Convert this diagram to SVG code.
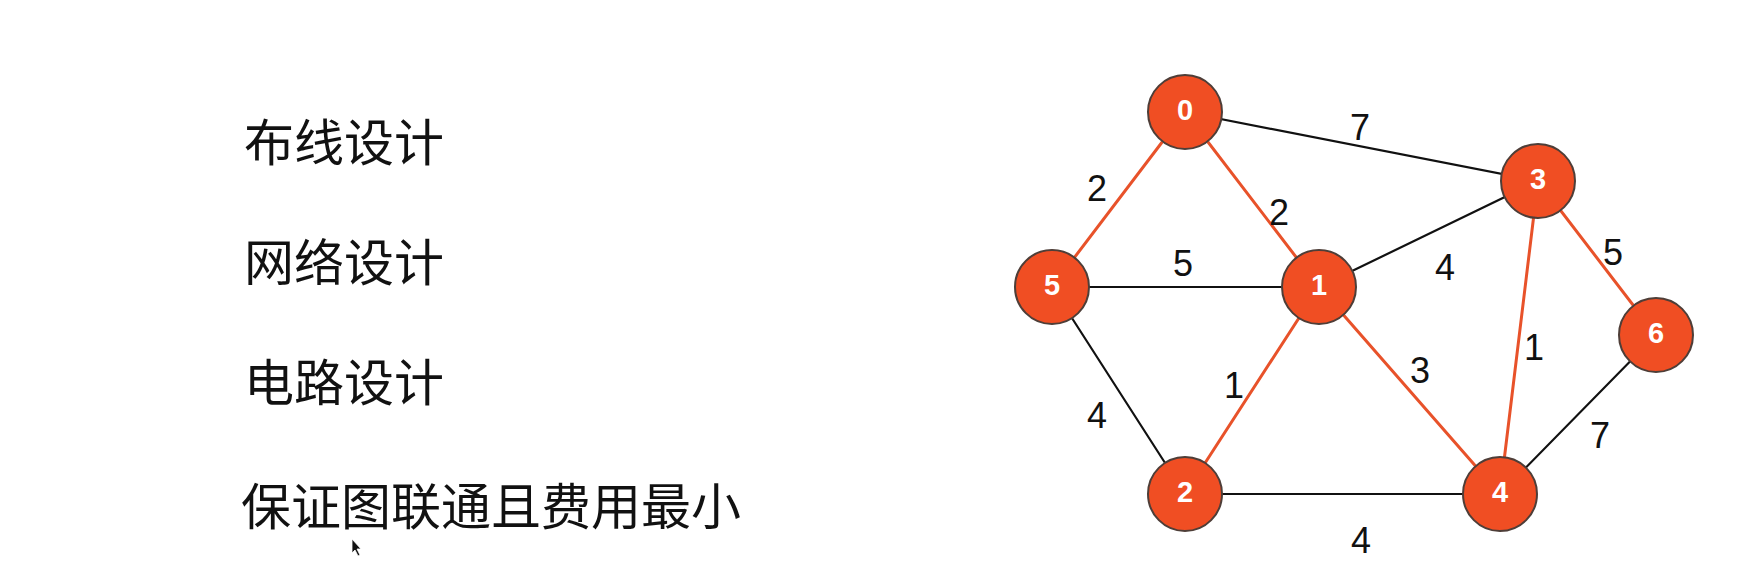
<svg xmlns="http://www.w3.org/2000/svg" width="1737" height="588" viewBox="0 0 1737 588">
<style>
.bg{fill:#ffffff}
.cn{font-family:"Noto Sans CJK SC","Noto Sans",sans-serif;font-size:50px;fill:#111}
.e{fill:none;stroke-linecap:round}
.blk{stroke:#111;stroke-width:2.2}
.red{stroke:#E8522A;stroke-width:3}
.nd{fill:#F04E23;stroke:#4e3e38;stroke-width:2}
.nl{font-family:"Liberation Sans",Arial,sans-serif;font-size:29px;font-weight:bold;fill:#fff;text-anchor:middle}
.wl{font-family:"Liberation Sans",Arial,sans-serif;font-size:36px;fill:#111;text-anchor:middle}
</style>
<rect class="bg" x="0" y="0" width="1737" height="588"/>
<g id="texts">
<text class="cn" x="244" y="161">布线设计</text>
<text class="cn" x="244" y="281">网络设计</text>
<text class="cn" x="244" y="401">电路设计</text>
<text class="cn" x="241" y="525">保证图联通且费用最小</text>
</g>
<g id="cursor">
<polygon points="352,539 352,553 355,550 358,556 360,555 357,549 361,549" fill="#111" stroke="#fff" stroke-width="0.8"/>
</g>
<g id="connectors">
<line class="e blk" x1="1185" y1="112" x2="1538" y2="181"/>
<line class="e blk" x1="1052" y1="287" x2="1319" y2="287"/>
<line class="e blk" x1="1319" y1="287" x2="1538" y2="181"/>
<line class="e blk" x1="1052" y1="287" x2="1185" y2="494"/>
<line class="e blk" x1="1185" y1="494" x2="1500" y2="494"/>
<line class="e blk" x1="1500" y1="494" x2="1656" y2="335"/>
<line class="e red" x1="1185" y1="112" x2="1052" y2="287"/>
<line class="e red" x1="1185" y1="112" x2="1319" y2="287"/>
<line class="e red" x1="1538" y1="181" x2="1656" y2="335"/>
<line class="e red" x1="1538" y1="181" x2="1500" y2="494"/>
<line class="e red" x1="1319" y1="287" x2="1185" y2="494"/>
<line class="e red" x1="1319" y1="287" x2="1500" y2="494"/>
<text class="wl" x="1360" y="140">7</text>
<text class="wl" x="1097" y="201">2</text>
<text class="wl" x="1279" y="225">2</text>
<text class="wl" x="1183" y="276">5</text>
<text class="wl" x="1445" y="280">4</text>
<text class="wl" x="1613" y="265">5</text>
<text class="wl" x="1234" y="398">1</text>
<text class="wl" x="1420" y="383">3</text>
<text class="wl" x="1534" y="360">1</text>
<text class="wl" x="1097" y="428">4</text>
<text class="wl" x="1600" y="448">7</text>
<text class="wl" x="1361" y="553">4</text>
</g>
<g id="node0"><circle class="nd" cx="1185" cy="112" r="37"/><text class="nl" x="1185" y="120">0</text></g>
<g id="node1"><circle class="nd" cx="1319" cy="287" r="37"/><text class="nl" x="1319" y="295">1</text></g>
<g id="node2"><circle class="nd" cx="1185" cy="494" r="37"/><text class="nl" x="1185" y="502">2</text></g>
<g id="node3"><circle class="nd" cx="1538" cy="181" r="37"/><text class="nl" x="1538" y="189">3</text></g>
<g id="node4"><circle class="nd" cx="1500" cy="494" r="37"/><text class="nl" x="1500" y="502">4</text></g>
<g id="node5"><circle class="nd" cx="1052" cy="287" r="37"/><text class="nl" x="1052" y="295">5</text></g>
<g id="node6"><circle class="nd" cx="1656" cy="335" r="37"/><text class="nl" x="1656" y="343">6</text></g>
</svg>
